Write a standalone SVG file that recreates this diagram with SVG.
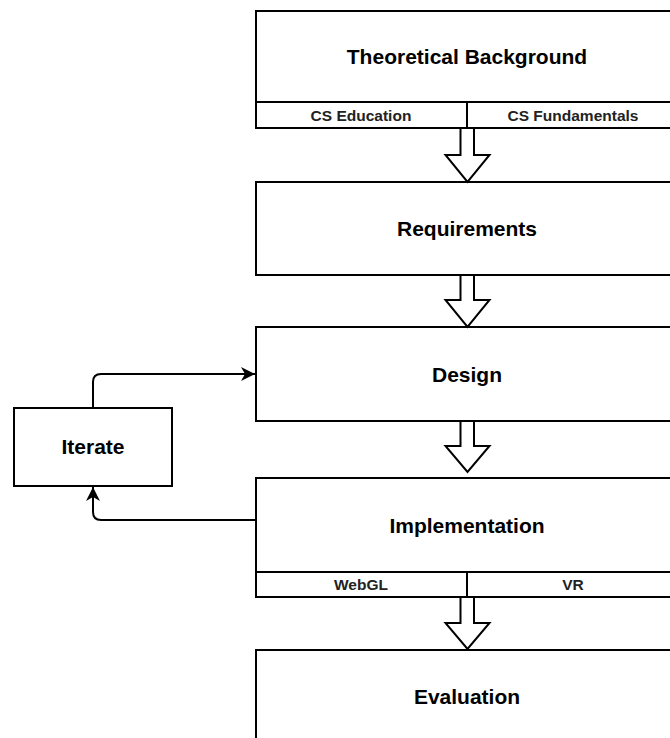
<svg xmlns="http://www.w3.org/2000/svg" width="670" height="738" viewBox="0 0 670 738">
<defs>
<style>
.box{fill:#fff;stroke:#000;stroke-width:2}
.div{fill:none;stroke:#000;stroke-width:2}
.ttl{font-family:"Liberation Sans",Arial,sans-serif;font-weight:bold;font-size:21px;fill:#000;text-anchor:middle}
.sub{font-family:"Liberation Sans",Arial,sans-serif;font-weight:bold;font-size:15.5px;fill:#222;text-anchor:middle}
.blk{fill:#fff;stroke:#000;stroke-width:2;stroke-linejoin:miter}
.con{fill:none;stroke:#000;stroke-width:2}
</style>
<marker id="ah" viewBox="-15 -8 16 16" refX="0" refY="0" markerUnits="userSpaceOnUse" markerWidth="16" markerHeight="16" orient="auto">
<path d="M0,0 L-14,-7 L-10,0 L-14,7 Z" fill="#000"/>
</marker>
</defs>
<rect width="670" height="738" fill="#fff"/>

<g id="theoretical-background">
<rect class="box" x="256" y="11" width="422" height="117"/>
<line class="div" x1="256" y1="102" x2="678" y2="102"/>
<line class="div" x1="467" y1="102" x2="467" y2="128"/>
<text class="ttl" x="467" y="64">Theoretical Background</text>
<text class="sub" x="361" y="121">CS Education</text>
<text class="sub" x="573" y="121">CS Fundamentals</text>
</g>

<g id="requirements">
<rect class="box" x="256" y="182" width="422" height="93"/>
<text class="ttl" x="467" y="236">Requirements</text>
</g>

<g id="design">
<rect class="box" x="256" y="327" width="422" height="94"/>
<text class="ttl" x="467" y="382">Design</text>
</g>

<g id="implementation">
<rect class="box" x="256" y="478" width="422" height="119"/>
<line class="div" x1="256" y1="572" x2="678" y2="572"/>
<line class="div" x1="467" y1="572" x2="467" y2="597"/>
<text class="ttl" x="467" y="533">Implementation</text>
<text class="sub" x="361" y="590">WebGL</text>
<text class="sub" x="573" y="590">VR</text>
</g>

<g id="evaluation">
<rect class="box" x="256" y="650" width="422" height="96"/>
<text class="ttl" x="467" y="704">Evaluation</text>
</g>

<g id="iterate">
<rect class="box" x="14" y="408" width="158" height="78"/>
<text class="ttl" x="93" y="454">Iterate</text>
</g>

<g id="connectors">
<polygon class="blk" points="460.5,128 474,128 474,155 489.5,155 467.5,182 445.5,155 460.5,155"/>
<polygon class="blk" points="460.5,275 474,275 474,300 489.5,300 467.5,327 445.5,300 460.5,300"/>
<polygon class="blk" points="460.5,421 474,421 474,446 489.5,446 467.5,472 445.5,446 460.5,446"/>
<polygon class="blk" points="460.5,597 474,597 474,623 489.5,623 467.5,649 445.5,623 460.5,623"/>
<path class="con" d="M93,407 V382 Q93,374 101,374 H255" marker-end="url(#ah)"/>
<path class="con" d="M255,520 H101 Q93,520 93,512 V487" marker-end="url(#ah)"/>
</g>
</svg>
